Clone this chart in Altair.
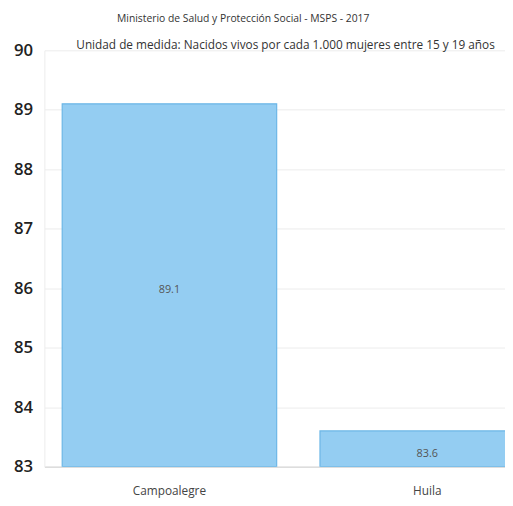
import altair as alt
import pandas as pd

categories = ["Campoalegre", "Huila"]
values = [89.1, 83.6]
title_line1 = "Ministerio de Salud y Protección Social - MSPS - 2017"
title_line2 = "Unidad de medida: Nacidos vivos por cada 1.000 mujeres entre 15 y 19 años"
y_min, y_max = 83, 90
y_ticks = list(range(83, 91))

df = pd.DataFrame({"cat": categories, "value": values})

W, H = 468, 423
FONT = "Open Sans"

x_scale = alt.Scale(domain=categories, range=[0, 516], paddingInner=0.168, paddingOuter=0.069)
y_scale = alt.Scale(domain=[y_min, y_max], nice=False, zero=False)

x_enc = alt.X("cat:N", scale=x_scale, sort=categories,
              axis=alt.Axis(title=None, labelAngle=0, labelFontSize=12, labelColor="#444",
                            labelFont=FONT, labelPadding=19, ticks=False,
                            domainColor="#cfcfcf", grid=False))
y_enc = alt.Y("value:Q", scale=y_scale,
              axis=alt.Axis(title=None, values=y_ticks, format="d", labelFontSize=17,
                            labelFontWeight=600, labelColor="#222", labelFont=FONT,
                            labelPadding=12, ticks=False, domain=True,
                            domainColor="#ececec", gridColor="#ececec"))

bars = alt.Chart(df).mark_bar(color="#94cdf2", stroke="#6bb6e6", strokeWidth=1.2, clip=True).encode(
    x=x_enc, y=y_enc, y2=alt.datum(y_min)
)

labels = alt.Chart(df).transform_calculate(mid=f"(datum.value + {y_min}) / 2").mark_text(
    fontSize=11, color="#555", font=FONT, clip=True, dy=5
).encode(
    x=alt.X("cat:N", scale=x_scale, sort=categories),
    y=alt.Y("mid:Q", scale=y_scale),
    text=alt.Text("value:Q", format=".1f"),
)

t1 = alt.Chart(pd.DataFrame({"t": [title_line1]})).mark_text(
    fontSize=10.5, color="#333", font=FONT, align="center", baseline="middle"
).encode(text="t:N", x=alt.value(202), y=alt.value(-32))

t2 = alt.Chart(pd.DataFrame({"t": [title_line2]})).mark_text(
    fontSize=12, color="#333", font=FONT, align="center", baseline="middle"
).encode(text="t:N", x=alt.value(245), y=alt.value(-5))

chart = alt.layer(bars, labels, t1, t2).properties(
    width=W, height=H,
    autosize="none",
    padding={"left": 37, "top": 39, "right": 0, "bottom": 36},
).configure_view(stroke=None)

chart.save("out.html", embed_options={"renderer": "svg", "actions": False})
